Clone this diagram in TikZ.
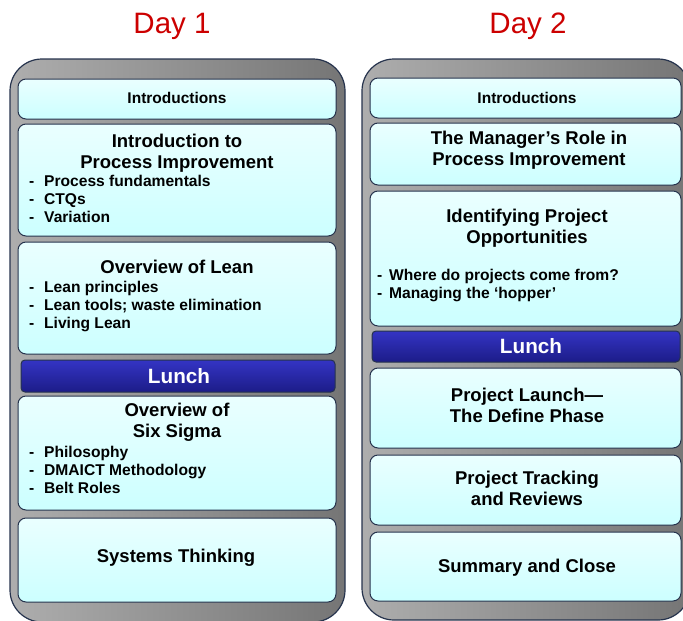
\documentclass[tikz,border=0pt]{standalone}
\usepackage{fontspec}
\setmainfont{Liberation Sans}
\definecolor{panelL}{gray}{0.68}
\definecolor{panelR}{gray}{0.46}
\definecolor{edge}{HTML}{26334D}
\definecolor{boxT}{HTML}{EAFFFF}
\definecolor{boxB}{HTML}{CCFFFF}
\definecolor{lunchT}{HTML}{3434C4}
\definecolor{lunchB}{HTML}{1C1C88}
\definecolor{dayred}{HTML}{CC0000}
\tikzset{
  panel/.style={draw=edge, line width=1.2pt, rounded corners=32pt, left color=panelL, right color=panelR, inner sep=0pt},
  sbox/.style={draw=edge, line width=1pt, rounded corners=8pt, top color=boxT, bottom color=boxB, inner sep=0pt},
  lunchbox/.style={draw=edge, line width=1pt, rounded corners=4pt, top color=lunchT, bottom color=lunchB, inner sep=0pt},
  daytitle/.style={anchor=base, inner sep=0pt, text=dayred, font=\fontsize{29.5}{32}\selectfont},
  smalltitle/.style={anchor=base, inner sep=0pt, font=\fontsize{15.5}{18}\selectfont\bfseries},
  bigtitle/.style={anchor=base, inner sep=0pt, align=center, font=\fontsize{18.5}{20.5}\selectfont\bfseries},
  lunchtext/.style={anchor=base, inner sep=0pt, text=white, font=\fontsize{20.7}{24}\selectfont\bfseries},
  bullets/.style={anchor=base west, inner sep=0pt, align=left, font=\fontsize{15.6}{18}\selectfont\bfseries},
}
\newcommand{\bul}[1]{\makebox[15pt][l]{-}#1}
\newcommand{\bulb}[1]{\makebox[12pt][l]{-}#1}
\begin{document}
\begin{tikzpicture}[x=1pt,y=-1pt]
\useasboundingbox (0,0) rectangle (683,621);
\clip (0,0) rectangle (683,621);
% titles
\node[daytitle] (day1) at (172,33) {Day 1};
\node[daytitle] (day2) at (528,33) {Day 2};
% panels
\node[panel, minimum width=335pt, minimum height=563pt] (p1) at (177.5,340.5) {};
\node[panel, minimum width=328pt, minimum height=561pt] (p2) at (526,339.5) {};
% Day 1 boxes
\node[sbox, minimum width=318pt, minimum height=40pt] (d1a) at (177,99) {};
\node[sbox, minimum width=318pt, minimum height=112pt] (d1b) at (177,180) {};
\node[sbox, minimum width=318pt, minimum height=112pt] (d1c) at (177,298) {};
\node[lunchbox, minimum width=314pt, minimum height=32pt] (d1l) at (178,376) {};
\node[sbox, minimum width=318pt, minimum height=114pt] (d1d) at (177,453) {};
\node[sbox, minimum width=318pt, minimum height=84pt] (d1e) at (177,560) {};
% Day 2 boxes
\node[sbox, minimum width=311pt, minimum height=40pt] (d2a) at (525.5,98) {};
\node[sbox, minimum width=311pt, minimum height=62pt] (d2b) at (525.5,154) {};
\node[sbox, minimum width=311pt, minimum height=135pt] (d2c) at (525.5,258.5) {};
\node[lunchbox, minimum width=308pt, minimum height=31pt] (d2l) at (526,346.5) {};
\node[sbox, minimum width=311pt, minimum height=80pt] (d2d) at (525.5,408) {};
\node[sbox, minimum width=311pt, minimum height=70pt] (d2e) at (525.5,490) {};
\node[sbox, minimum width=311pt, minimum height=69pt] (d2f) at (525.5,566.5) {};
% Day 1 texts (multi-line nodes are anchored at the baseline of their last line)
\node[smalltitle] (t1a) at (177,103) {Introductions};
\node[bigtitle] (t1b) at (177,168) {Introduction to\\Process Improvement};
\node[bullets] (b1b) at (29,222) {\bul{Process fundamentals}\\\bul{CTQs}\\\bul{Variation}};
\node[bigtitle] (t1c) at (177,273) {Overview of Lean};
\node[bullets] (b1c) at (29,328) {\bul{Lean principles}\\\bul{Lean tools; waste elimination}\\\bul{Living Lean}};
\node[lunchtext] (t1l) at (179,383) {Lunch};
\node[bigtitle] (t1d) at (177,437) {Overview of\\Six Sigma};
\node[bullets] (b1d) at (29,493) {\bul{Philosophy}\\\bul{DMAICT Methodology}\\\bul{Belt Roles}};
\node[bigtitle] (t1e) at (176,562) {Systems Thinking};
% Day 2 texts
\node[smalltitle] (t2a) at (527,103) {Introductions};
\node[bigtitle] (t2b) at (529,165) {The Manager’s Role in\\Process Improvement};
\node[bigtitle] (t2c) at (527,243) {Identifying Project\\Opportunities};
\node[bullets] (b2c) at (377,298) {\bulb{Where do projects come from?}\\\bulb{Managing the ‘hopper’}};
\node[lunchtext] (t2l) at (531,353) {Lunch};
\node[bigtitle] (t2d) at (527,422) {Project Launch—\\The Define Phase};
\node[bigtitle] (t2e) at (527,505) {Project Tracking\\and Reviews};
\node[bigtitle] (t2f) at (527,572) {Summary and Close};
\end{tikzpicture}
\end{document}
